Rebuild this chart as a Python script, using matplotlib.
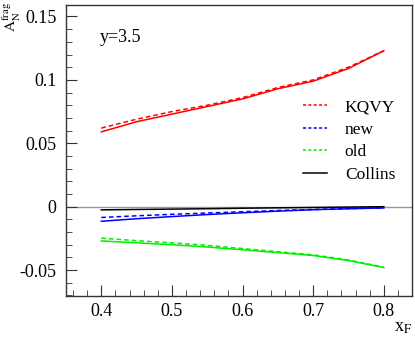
import matplotlib
matplotlib.use("Agg")
import matplotlib.pyplot as plt
from matplotlib.ticker import MultipleLocator
from matplotlib.lines import Line2D

# ==========================================================
# DATA
# ==========================================================

xf = [0.40, 0.45, 0.50, 0.55, 0.60, 0.65, 0.70, 0.75, 0.80]

kqvy_solid = [0.059, 0.067, 0.073, 0.079, 0.085, 0.093, 0.099, 0.109, 0.123]
kqvy_dash = [0.062, 0.069, 0.075, 0.080, 0.086, 0.094, 0.100, 0.110, 0.123]

new_solid = [-0.0115, -0.0095, -0.0078, -0.0062, -0.0048, -0.0035, -0.0024, -0.0016, -0.0010]
new_dash = [-0.0085, -0.0072, -0.0060, -0.0050, -0.0040, -0.0030, -0.0022, -0.0015, -0.0010]

old_solid = [-0.0270, -0.0285, -0.0300, -0.0318, -0.0340, -0.0362, -0.0385, -0.0425, -0.0480]
old_dash = [-0.0248, -0.0268, -0.0285, -0.0305, -0.0330, -0.0355, -0.0380, -0.0420, -0.0478]

collins = [-0.0025, -0.0022, -0.0019, -0.0016, -0.0012, -0.0009, -0.0006, -0.0003, 0.0000]

legend_labels = ["KQVY", "new", "old", "Collins"]

# ==========================================================
# FIGURE
# ==========================================================

plt.rcParams["font.family"] = ["Liberation Serif", "DejaVu Serif"]
plt.rcParams["mathtext.fontset"] = "stix"

fig = plt.figure(figsize=(4.15, 3.38), dpi=100)
ax = fig.add_axes([0.159, 0.124, 0.834, 0.861])

ax.axhline(0, color="#999999", lw=1.0, zorder=1)

ax.plot(xf, kqvy_solid, color="#ff0000", lw=1.1)
ax.plot(xf, kqvy_dash, color="#ff0000", lw=1.1, ls=(0, (3, 2)))
ax.plot(xf, new_solid, color="#0000ff", lw=1.1)
ax.plot(xf, new_dash, color="#0000ff", lw=1.1, ls=(0, (3, 2)))
ax.plot(xf, old_solid, color="#00ee00", lw=1.1)
ax.plot(xf, old_dash, color="#00ee00", lw=1.1, ls=(0, (3, 2)))
ax.plot(xf, collins, color="black", lw=1.1)

ax.set_xlim(0.35, 0.84)
ax.set_ylim(-0.0705, 0.159)

ax.xaxis.set_minor_locator(MultipleLocator(0.02))
ax.yaxis.set_minor_locator(MultipleLocator(0.01))
ax.set_xticks([0.4, 0.5, 0.6, 0.7, 0.8])
ax.set_xticklabels(["0.4", "0.5", "0.6", "0.7", "0.8"])
ax.set_yticks([-0.05, 0, 0.05, 0.1, 0.15])
ax.set_yticklabels(["-0.05", "0", "0.05", "0.1", "0.15"])

ax.tick_params(which="both", direction="in", top=False, right=False,
               color="#333333", labelsize=13)
ax.tick_params(which="major", length=8)
ax.tick_params(axis="y", which="major", pad=7)
ax.tick_params(axis="x", which="major", pad=5)
ax.tick_params(which="minor", length=4)
for s in ax.spines.values():
    s.set_color("#333333")
    s.set_linewidth(1.0)

# labels
fig.text(0.03, 0.995, r"$\mathrm{A}_{\mathrm{N}}^{\mathrm{frag}}$", rotation=90,
         ha="center", va="top", fontsize=11)
fig.text(0.992, 0.005, r"x$_{\mathrm{F}}$", ha="right", va="bottom", fontsize=13)
ax.text(0.398, 0.130, "y=3.5", fontsize=13)

handles = [
    Line2D([], [], color="#ff0000", lw=1.1, ls=(0, (2, 1.5))),
    Line2D([], [], color="#0000ff", lw=1.1, ls=(0, (2, 1.5))),
    Line2D([], [], color="#00ee00", lw=1.1, ls=(0, (2, 1.5))),
    Line2D([], [], color="black", lw=1.1),
]
ax.legend(handles, legend_labels, loc="upper left", bbox_to_anchor=(0.665, 0.70),
          frameon=False, fontsize=12.5, handlelength=1.4, handletextpad=1.0,
          labelspacing=0.36, borderaxespad=0)

fig.savefig("out.png", dpi=100)
